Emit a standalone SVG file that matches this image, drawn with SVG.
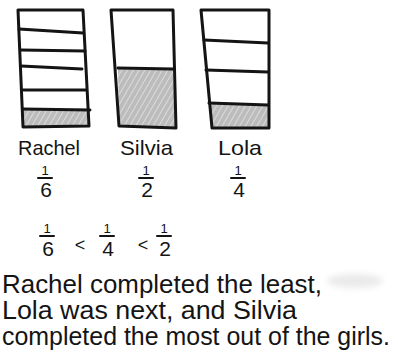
<svg xmlns="http://www.w3.org/2000/svg" width="398" height="358" viewBox="0 0 398 358">
  <defs>
    <pattern id="hatch" patternUnits="userSpaceOnUse" width="5" height="5" patternTransform="rotate(30)">
      <rect width="5" height="5" fill="#bcbcbc"/>
      <line x1="0" y1="0" x2="0" y2="5" stroke="#e4e4e4" stroke-width="1.6"/>
    </pattern>
    <filter id="blur" x="-20%" y="-50%" width="140%" height="200%">
      <feGaussianBlur stdDeviation="3"/>
    </filter>
  </defs>
  <style>
    .ink { fill: none; stroke: #141414; stroke-width: 3; stroke-linecap: round; stroke-linejoin: round; }
    .thin { fill: none; stroke: #141414; stroke-width: 2; stroke-linecap: round; }
    .shade { fill: url(#hatch); stroke: none; }
    .lbl { font-family: "Liberation Sans", "DejaVu Sans", sans-serif; fill: #141414; font-size: 21px; }
    .num { font-family: "Liberation Sans", "DejaVu Sans", sans-serif; fill: #141414; font-size: 13px; text-anchor: middle; }
    .den { font-family: "Liberation Sans", "DejaVu Sans", sans-serif; fill: #141414; font-size: 21px; text-anchor: middle; }
    .lt { font-family: "Liberation Sans", "DejaVu Sans", sans-serif; fill: #141414; font-size: 18px; text-anchor: middle; }
    .para { font-family: "Liberation Sans", "DejaVu Sans", sans-serif; fill: #141414; font-size: 25px; }
  </style>

  <rect width="398" height="358" fill="#ffffff"/>

  <g id="bar-rachel">
    <polygon class="shade" points="23,109 90,110 89,126 23,126"/>
    <path class="ink" d="M18,10 L83,10 L89,126 L23,127 Z"/>
    <path class="ink" d="M19,29 L83,33 M21,50 L85,51 M21,66 L82,69 M22,90 L86,90 M23,109 L90,110"/>
  </g>

  <g id="bar-silvia">
    <polygon class="shade" points="118,68 173,69 176,127 119,125"/>
    <path class="ink" d="M111,10 L173,10 L176,128 L119,126 Z"/>
    <path class="ink" d="M118,68 L173,69"/>
  </g>

  <g id="bar-lola">
    <polygon class="shade" points="209,103 268,105 269,127 212,127"/>
    <path class="ink" d="M201,10 L269,10 L269,128 L212,128 Z"/>
    <path class="ink" d="M204,40 L268,43 M206,70 L268,72 M209,103 L268,105"/>
  </g>

  <g id="label-rachel">
    <text class="lbl" x="18" y="155" textLength="62" lengthAdjust="spacingAndGlyphs">Rachel</text>
    <text class="num" x="45" y="175">1</text>
    <path class="thin" d="M38,178 L52,178"/>
    <text class="den" x="46" y="197">6</text>
  </g>

  <g id="label-silvia">
    <text class="lbl" x="120" y="155" textLength="53" lengthAdjust="spacingAndGlyphs">Silvia</text>
    <text class="num" x="146" y="175">1</text>
    <path class="thin" d="M139,178 L153,178"/>
    <text class="den" x="147" y="197">2</text>
  </g>

  <g id="label-lola">
    <text class="lbl" x="218" y="155" textLength="44" lengthAdjust="spacingAndGlyphs">Lola</text>
    <text class="num" x="238" y="175">1</text>
    <path class="thin" d="M231,178 L245,178"/>
    <text class="den" x="239" y="197">4</text>
  </g>

  <g id="inequality">
    <text class="num" x="47" y="233">1</text>
    <path class="thin" d="M40,236 L54,236"/>
    <text class="den" x="48" y="256">6</text>
    <text class="lt" x="80" y="251">&lt;</text>
    <text class="num" x="107" y="233">1</text>
    <path class="thin" d="M100,236 L114,236"/>
    <text class="den" x="108" y="256">4</text>
    <text class="lt" x="143" y="251">&lt;</text>
    <text class="num" x="164" y="233">1</text>
    <path class="thin" d="M157,236 L171,236"/>
    <text class="den" x="165" y="256">2</text>
  </g>

  <ellipse cx="355" cy="281" rx="28" ry="7" fill="#dcdcdc" opacity="0.6" filter="url(#blur)"/>

  <g id="conclusion">
    <text class="para" x="2" y="293" textLength="320" lengthAdjust="spacingAndGlyphs">Rachel completed the least,</text>
    <text class="para" x="2" y="319" textLength="295" lengthAdjust="spacingAndGlyphs">Lola was next, and Silvia</text>
    <text class="para" x="2" y="345" textLength="388" lengthAdjust="spacingAndGlyphs">completed the most out of the girls.</text>
  </g>
</svg>
